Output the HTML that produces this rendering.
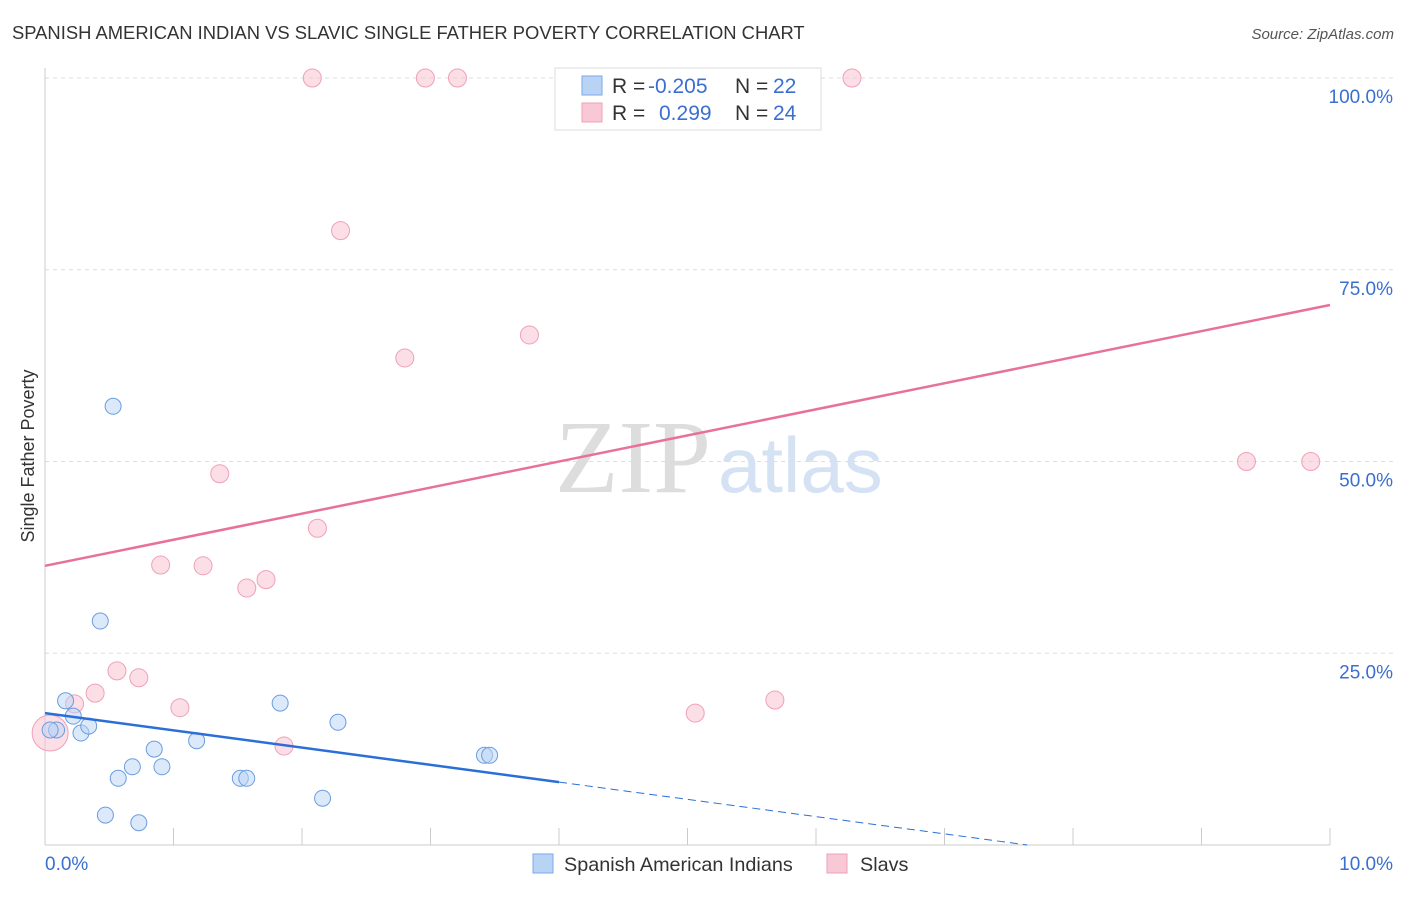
<!DOCTYPE html>
<html><head><meta charset="utf-8"><style>
body{margin:0;background:#fff;font-family:"Liberation Sans",sans-serif}
</style></head><body>
<svg id="c" width="1406" height="892" xmlns="http://www.w3.org/2000/svg" style="font-family:'Liberation Sans',sans-serif">
<text x="12" y="39" font-size="18.4" fill="#333">SPANISH AMERICAN INDIAN VS SLAVIC SINGLE FATHER POVERTY CORRELATION CHART</text>
<text x="1394" y="39" font-size="15" fill="#555" font-style="italic" text-anchor="end">Source: ZipAtlas.com</text>
<text x="0" y="0" transform="translate(34,456) rotate(-90)" font-size="18" fill="#333" text-anchor="middle">Single Father Poverty</text>
<text x="555" y="492" font-size="104" fill="#ddd" font-family="Liberation Serif">ZIP</text>
<text x="718" y="492" font-size="78" fill="#d4e2f4">atlas</text>
<g id="grid"></g><g id="marks"></g>
<g>
<rect x="555" y="68" width="266" height="62" fill="#fff" stroke="#ddd"/>
<rect x="582" y="76" width="20" height="19" fill="#b9d3f5" stroke="#7aaae8"/>
<rect x="582" y="103" width="20" height="19" fill="#f9c8d7" stroke="#f0a0b8"/>
<text y="93" font-size="21"><tspan x="612" fill="#333">R = </tspan><tspan x="648" fill="#3a6fd0">-0.205</tspan><tspan x="735" fill="#333">N = </tspan><tspan x="773" fill="#3a6fd0">22</tspan></text>
<text y="120" font-size="21"><tspan x="612" fill="#333">R = </tspan><tspan x="659" fill="#3a6fd0">0.299</tspan><tspan x="735" fill="#333">N = </tspan><tspan x="773" fill="#3a6fd0">24</tspan></text>
</g>
<rect x="533" y="854" width="20" height="19" fill="#b9d3f5" stroke="#7aaae8"/>
<text x="564" y="871" font-size="19.8" fill="#333">Spanish American Indians</text>
<rect x="827" y="854" width="20" height="19" fill="#f9c8d7" stroke="#f0a0b8"/>
<text x="860" y="871" font-size="19.8" fill="#333">Slavs</text>
</svg>
<script>
const blueX=[0.53,0.43,0.16,0.22,0.09,0.28,0.34,1.83,2.28,0.85,1.18,0.91,0.68,0.57,1.52,1.57,3.42,3.46,2.16,0.47,0.73,0.04];
const blueY=[57.2,29.2,18.8,16.8,15.0,14.6,15.5,18.5,16.0,12.5,13.6,10.2,10.2,8.7,8.7,8.7,11.7,11.7,6.1,3.9,2.9,15.0];
const pinkX=[2.08,2.96,3.21,6.28,2.30,3.77,2.80,1.36,2.12,0.90,1.23,1.72,1.57,0.56,0.73,0.39,0.23,1.05,1.86,5.06,5.68,9.35,9.85,0.04];
const pinkY=[100,100,100,100,80.1,66.5,63.5,48.4,41.3,36.5,36.4,34.6,33.5,22.7,21.8,19.8,18.4,17.9,12.9,17.2,18.9,50,50,14.6];
const pinkR=[9,9,9,9,9,9,9,9,9,9,9,9,9,9,9,9,9,9,9,9,9,9,9,18];
const yTicks=[25,50,75,100];
const yTickLabels=["25.0%","50.0%","75.0%","100.0%"];
const blueTrend=[17.2,-2.25];
const pinkTrend=[36.4,3.4];
const NS="http://www.w3.org/2000/svg";
const X=v=>45+v*128.5, Y=v=>845-v*7.67;
const g=document.getElementById('grid'), m=document.getElementById('marks');
function mk(tag,at,par){const e=document.createElementNS(NS,tag);for(const k in at)e.setAttribute(k,at[k]);par.appendChild(e);return e;}
yTicks.forEach((t,i)=>{
 const l=mk('line',{x1:45,x2:1394,y1:Y(t),y2:Y(t),stroke:'#ddd','stroke-dasharray':'4,4'},g);
 
 
 const tx=mk('text',{x:1393,y:Y(t)+25,'font-size':19,fill:'#3a6fd0','text-anchor':'end'},g);
 tx.textContent=yTickLabels[i];
 
 
});
const ax=mk('line',{x1:45,x2:45,y1:68,y2:845,stroke:'#ccc'},g);


const bx=mk('line',{x1:45,x2:1330,y1:845,y2:845,stroke:'#ccc'},g);


for(let i=0;i<=10;i++){const t=mk('line',{x1:X(i),x2:X(i),y1:828,y2:845,stroke:'#ccc'},g);
 
 }
[["0.0%",45,'start'],["10.0%",1393,'end']].forEach(a=>{const t=mk('text',{x:a[1],y:870,'font-size':19,fill:'#3a6fd0','text-anchor':a[2]},g);t.textContent=a[0];
 
 });
pinkX.forEach((x,i)=>{const c=mk('circle',{cx:X(x),cy:Y(pinkY[i]),r:pinkR[i],fill:'rgba(249,190,208,0.5)',stroke:'#f0a0b8','stroke-width':1},m);
 
 });
blueX.forEach((x,i)=>{const c=mk('circle',{cx:X(x),cy:Y(blueY[i]),r:8,fill:'rgba(185,211,245,0.5)',stroke:'#6a9de0','stroke-width':1},m);
 
 });
const pl=mk('line',{x1:X(0),y1:Y(pinkTrend[0]),x2:X(10),y2:Y(pinkTrend[0]+10*pinkTrend[1]),stroke:'#e8719a','stroke-width':2.5},m);


const xe=-blueTrend[0]/blueTrend[1];
const bl=mk('line',{x1:X(0),y1:Y(blueTrend[0]),x2:X(4),y2:Y(blueTrend[0]+4*blueTrend[1]),stroke:'#2a6fd8','stroke-width':2.5},m);


const bd=mk('line',{x1:X(4),y1:Y(blueTrend[0]+4*blueTrend[1]),x2:X(xe),y2:Y(0),stroke:'#2a6fd8','stroke-width':1,'stroke-dasharray':'8,5'},m);


</script>
</body></html>
